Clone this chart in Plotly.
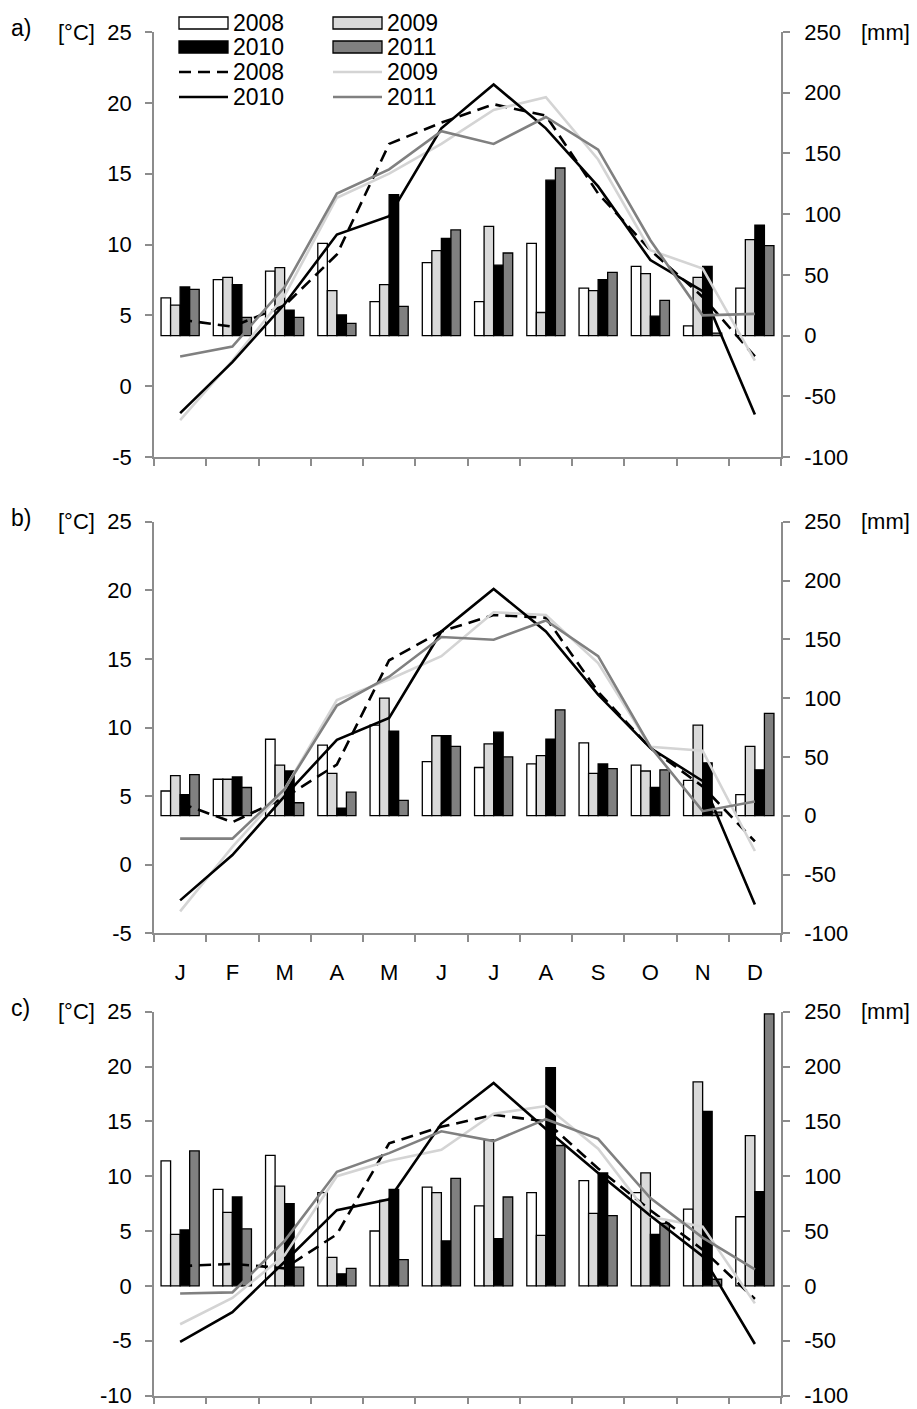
import plotly.graph_objects as go

W, H = 917, 1409

months = ["J", "F", "M", "A", "M", "J", "J", "A", "S", "O", "N", "D"]
years = ["2008", "2009", "2010", "2011"]

# ---- station a ----
prec_a_2008 = [31, 46, 53, 76, 28, 60, 28, 76, 39, 57, 8, 39]
prec_a_2009 = [25, 48, 56, 37, 42, 70, 90, 19, 37, 51, 48, 79]
prec_a_2010 = [40, 42, 21, 17, 116, 80, 58, 128, 46, 16, 57, 91]
prec_a_2011 = [38, 15, 15, 10, 24, 87, 68, 138, 52, 29, 2, 74]
temp_a_2008 = [4.7, 4.2, 5.7, 9.3, 17.1, 18.6, 19.9, 19.1, 13.6, 9.6, 6.3, 2.1]
temp_a_2009 = [-2.4, 1.8, 6.4, 13.3, 15.0, 17.1, 19.5, 20.4, 16.0, 9.6, 8.3, 1.8]
temp_a_2010 = [-1.9, 1.7, 5.8, 10.7, 12.0, 18.2, 21.3, 18.2, 14.1, 8.9, 6.7, -2.0]
temp_a_2011 = [2.1, 2.8, 7.0, 13.6, 15.3, 18.0, 17.1, 19.0, 16.7, 10.3, 5.0, 5.1]

# ---- station b ----
prec_b_2008 = [21, 31, 65, 60, 77, 46, 41, 44, 62, 43, 30, 18]
prec_b_2009 = [34, 31, 43, 36, 100, 68, 61, 51, 36, 38, 77, 59]
prec_b_2010 = [18, 33, 38, 6.5, 72, 68, 71, 65, 44, 24, 45, 39]
prec_b_2011 = [35, 24, 11, 20, 13, 59, 50, 90, 40, 39, 3, 87]
temp_b_2008 = [4.5, 3.1, 4.9, 7.3, 14.9, 17.0, 18.2, 18.0, 12.6, 8.5, 5.7, 1.7]
temp_b_2009 = [-3.4, 1.3, 5.5, 12.0, 13.5, 15.2, 18.4, 18.2, 14.7, 8.6, 8.3, 1.0]
temp_b_2010 = [-2.6, 0.7, 5.0, 9.1, 10.7, 17.0, 20.1, 17.0, 12.4, 8.5, 6.1, -2.9]
temp_b_2011 = [1.9, 1.9, 5.5, 11.6, 13.7, 16.6, 16.4, 17.8, 15.2, 8.6, 3.9, 4.6]

# ---- station c ----
prec_c_2008 = [114, 88, 119, 85, 50, 90, 73, 85, 96, 85, 70, 63]
prec_c_2009 = [47, 67, 91, 26, 78, 85, 133, 46, 66, 103, 186, 137]
prec_c_2010 = [51, 81, 75, 11, 88, 41, 43, 199, 103, 47, 159, 86]
prec_c_2011 = [123, 52, 17, 16, 24, 98, 81, 128, 64, 57, 6, 248]
temp_c_2008 = [1.8, 2.0, 1.6, 4.7, 13.0, 14.5, 15.6, 15.0, 10.7, 6.9, 3.3, -1.2]
temp_c_2009 = [-3.5, -1.1, 2.8, 10.0, 11.4, 12.4, 15.7, 16.4, 12.5, 6.3, 5.4, -1.6]
temp_c_2010 = [-5.1, -2.4, 2.2, 6.9, 7.9, 14.8, 18.5, 14.3, 10.3, 6.4, 2.7, -5.3]
temp_c_2011 = [-0.7, -0.6, 4.1, 10.4, 12.1, 14.1, 13.2, 15.2, 13.4, 8.0, 4.4, 1.5]

# axis tick values
temp_ticks_ab = [-5, 0, 5, 10, 15, 20, 25]
temp_ticks_c = [-10, -5, 0, 5, 10, 15, 20, 25]
prec_ticks = [-100, -50, 0, 50, 100, 150, 200, 250]

panels = [
    dict(label="a)", prec=[prec_a_2008, prec_a_2009, prec_a_2010, prec_a_2011],
         temp=[temp_a_2008, temp_a_2009, temp_a_2010, temp_a_2011],
         top=32, bottom=457, tticks=temp_ticks_ab, xlabels=False),
    dict(label="b)", prec=[prec_b_2008, prec_b_2009, prec_b_2010, prec_b_2011],
         temp=[temp_b_2008, temp_b_2009, temp_b_2010, temp_b_2011],
         top=521.7, bottom=933.3, tticks=temp_ticks_ab, xlabels=True),
    dict(label="c)", prec=[prec_c_2008, prec_c_2009, prec_c_2010, prec_c_2011],
         temp=[temp_c_2008, temp_c_2009, temp_c_2010, temp_c_2011],
         top=1011.7, bottom=1395.5, tticks=temp_ticks_c, xlabels=False),
]

bar_fill = ["#ffffff", "#d9d9d9", "#000000", "#808080"]
line_color = ["#000000", "#d4d4d4", "#000000", "#808080"]
line_dash = ["12px,7px", "solid", "solid", "solid"]

X_LEFT, X_RIGHT = 154, 781
AXIS_GREY = "#8c8c8c"
FONT = "Liberation Sans, Arial, sans-serif"
TICK_SIZE = 22
months_x = list(range(12))


def px(x):
    return x / W


def py(y):
    return 1 - y / H


def tick_text(vals):
    # plain hyphen for negatives
    return [str(v) for v in vals]


fig = go.Figure()
layout = dict(
    width=W, height=H, autosize=False,
    margin=dict(l=0, r=0, t=0, b=0, autoexpand=False),
    paper_bgcolor="white", plot_bgcolor="white",
    font=dict(family=FONT, size=TICK_SIZE, color="black"),
    showlegend=False, barmode="group", bargap=0.27, bargroupgap=0,
)

annotations = []
shapes = []

for i, p in enumerate(panels):
    n = i + 1
    xa = "x" if n == 1 else f"x{n}"
    ya_p = "y" if n == 1 else f"y{2 * n - 1}"
    ya_t = f"y{2 * n}"
    dom_y = [py(p["bottom"]), py(p["top"])]

    for k in range(4):
        fig.add_trace(go.Bar(
            x=months_x, y=p["prec"][k], name=years[k],
            xaxis=xa, yaxis=ya_p,
            marker=dict(color=bar_fill[k], line=dict(color="black", width=1.3)),
        ))
    for k in range(4):
        fig.add_trace(go.Scatter(
            x=months_x, y=p["temp"][k], name=years[k], mode="lines",
            xaxis=xa, yaxis=ya_t,
            line=dict(color=line_color[k], width=2.6, dash=line_dash[k]),
        ))

    xkey = "xaxis" if n == 1 else f"xaxis{n}"
    pkey = "yaxis" if n == 1 else f"yaxis{2 * n - 1}"
    tkey = f"yaxis{2 * n}"
    tt = p["tticks"]

    layout[xkey] = dict(
        domain=[px(X_LEFT), px(X_RIGHT)], anchor=ya_p, range=[-0.5, 11.5],
        tickmode="array", tickvals=months_x,
        ticktext=months if p["xlabels"] else [""] * 12,
        ticks="", ticklen=0, showticklabels=p["xlabels"], ticklabelstandoff=18,
        minor=dict(tickmode="array", tickvals=[m - 0.5 for m in range(13)],
                   ticks="outside", ticklen=7, tickwidth=1.5, tickcolor=AXIS_GREY),
        showline=True, linecolor=AXIS_GREY, linewidth=1.8,
        showgrid=False, zeroline=False, fixedrange=True,
    )
    layout[pkey] = dict(
        domain=dom_y, anchor=xa, side="right", range=[prec_ticks[0], prec_ticks[-1]],
        tickmode="array", tickvals=prec_ticks, ticktext=tick_text(prec_ticks),
        ticks="outside", ticklen=7, tickwidth=1.5, tickcolor=AXIS_GREY,
        ticklabelstandoff=10, ticklabeloverflow="allow",
        showline=True, linecolor=AXIS_GREY, linewidth=1.8,
        showgrid=False, zeroline=False,
    )
    layout[tkey] = dict(
        overlaying=ya_p, anchor=xa, side="left", range=[tt[0], tt[-1]],
        tickmode="array", tickvals=tt, ticktext=tick_text(tt),
        ticks="outside", ticklen=7, tickwidth=1.5, tickcolor=AXIS_GREY,
        ticklabelstandoff=9, ticklabeloverflow="allow",
        showline=True, linecolor=AXIS_GREY, linewidth=1.8,
        showgrid=False, zeroline=False,
    )

    # panel letter and units
    annotations.append(dict(text=p["label"], x=px(9), y=py(p["top"] - 4),
                            xref="paper", yref="paper", xanchor="left", yanchor="middle",
                            showarrow=False, font=dict(size=23)))
    annotations.append(dict(text="[°C]", x=px(56), y=py(p["top"]),
                            xref="paper", yref="paper", xanchor="left", yanchor="middle",
                            showarrow=False, font=dict(size=TICK_SIZE)))
    annotations.append(dict(text="[mm]", x=px(859), y=py(p["top"]),
                            xref="paper", yref="paper", xanchor="left", yanchor="middle",
                            showarrow=False, font=dict(size=TICK_SIZE)))

# legend (two columns, bars first then lines), inside panel a
col_x = [179, 333]
row_y = [23, 47, 72, 97]
sw = 49
for k in range(4):
    col = k % 2
    row = k // 2
    x0 = col_x[col]
    yc = row_y[row]
    shapes.append(dict(type="rect", xref="paper", yref="paper",
                       x0=px(x0), x1=px(x0 + sw), y0=py(yc - 6), y1=py(yc + 6),
                       fillcolor=bar_fill[k], line=dict(color="black", width=1.3)))
    annotations.append(dict(text=years[k], x=px(x0 + sw + 3), y=py(yc),
                            xref="paper", yref="paper", xanchor="left", yanchor="middle",
                            showarrow=False, font=dict(size=23)))
for k in range(4):
    col = k % 2
    row = 2 + k // 2
    x0 = col_x[col]
    yc = row_y[row]
    shapes.append(dict(type="line", xref="paper", yref="paper",
                       x0=px(x0), x1=px(x0 + sw), y0=py(yc), y1=py(yc),
                       line=dict(color=line_color[k], width=2.6,
                                 dash="12px,7px" if line_dash[k] != "solid" else "solid")))
    annotations.append(dict(text=years[k], x=px(x0 + sw + 3), y=py(yc),
                            xref="paper", yref="paper", xanchor="left", yanchor="middle",
                            showarrow=False, font=dict(size=23)))

layout["annotations"] = annotations
layout["shapes"] = shapes
fig.update_layout(**layout)
fig.write_html("out.html")
